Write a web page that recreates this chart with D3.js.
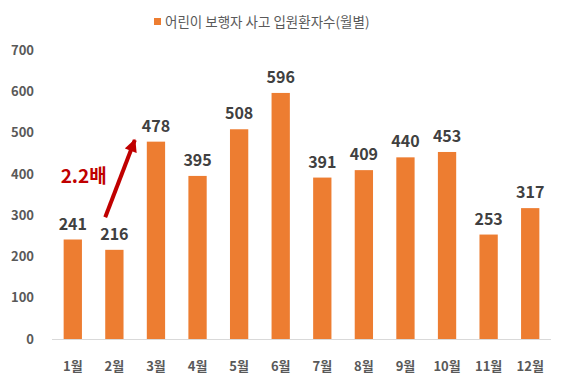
<!DOCTYPE html>
<html>
<head>
<meta charset="utf-8">
<script src="https://cdnjs.cloudflare.com/ajax/libs/d3/7.8.5/d3.min.js"></script>
<style>
body { margin: 0; background: #fff; }
text { font-family: "Noto Sans CJK KR", "Noto Sans", sans-serif; }
</style>
</head>
<body>
<script>
var w = 566, h = 386;

// data
var months = ["1월", "2월", "3월", "4월", "5월", "6월", "7월", "8월", "9월", "10월", "11월", "12월"];
var patients = [241, 216, 478, 395, 508, 596, 391, 409, 440, 453, 253, 317];
var yTicks = [0, 100, 200, 300, 400, 500, 600, 700];
var seriesName = "어린이 보행자 사고 입원환자수(월별)";
var noteText = "2.2배";

var orange = "#ED7D31";

var svg = d3.select("body").append("svg")
	.attr("width", w)
	.attr("height", h);

var x = d3.scaleBand()
	.domain(months)
	.range([52, 551])
	.paddingInner(0.56)
	.paddingOuter(0.28);

var y = d3.scaleLinear()
	.domain([0, 700])
	.range([339, 50]);

// y tick labels (no axis line)
var yAxis = d3.axisLeft(y).tickValues(yTicks).tickSize(0).tickPadding(0);
var ya = svg.append("g")
	.attr("transform", "translate(34,0)")
	.call(yAxis);
ya.select(".domain").remove();
ya.selectAll("text")
	.attr("fill", "#595959")
	.style("font-size", "13px")
	.style("font-weight", "bold");

// bars
svg.selectAll(".bar")
	.data(patients)
	.enter()
	.append("rect")
	.attr("class", "bar")
	.attr("x", function(d, i){ return x(months[i]); })
	.attr("width", x.bandwidth())
	.attr("y", function(d){ return y(d); })
	.attr("height", function(d){ return y(0) - y(d); })
	.attr("fill", orange);

// baseline
svg.append("line")
	.attr("x1", 52).attr("x2", 551)
	.attr("y1", y(0) + 0.5).attr("y2", y(0) + 0.5)
	.attr("stroke", "#d9d9d9")
	.attr("stroke-width", 1);

// x labels
var xAxis = d3.axisBottom(x).tickSize(0).tickPadding(0);
var xa = svg.append("g")
	.attr("transform", "translate(0," + y(0) + ")")
	.call(xAxis);
xa.select(".domain").remove();
xa.selectAll("text")
	.attr("dy", null)
	.attr("y", 32)
	.attr("fill", "#595959")
	.style("font-size", "13px")
	.style("font-weight", "bold");

// value labels
svg.selectAll(".val")
	.data(patients)
	.enter()
	.append("text")
	.attr("class", "val")
	.attr("text-anchor", "middle")
	.attr("x", function(d, i){ return x(months[i]) + x.bandwidth() / 2; })
	.attr("y", function(d){ return y(d) - 10; })
	.attr("fill", "#404040")
	.style("font-size", "16px")
	.style("font-weight", "bold")
	.text(function(d){ return d; });

// legend
var lg = svg.append("g");
lg.append("rect")
	.attr("x", 154).attr("y", 18)
	.attr("width", 7).attr("height", 7)
	.attr("fill", orange);
lg.append("text")
	.attr("x", 165).attr("y", 27)
	.attr("fill", "#595959")
	.style("font-size", "13.5px")
	.text(seriesName);

// arrow annotation
svg.append("defs").append("marker")
	.attr("id", "ah")
	.attr("viewBox", "0 0 10 10")
	.attr("refX", 9).attr("refY", 5)
	.attr("markerWidth", 3.5).attr("markerHeight", 3.2)
	.attr("orient", "auto")
	.append("path")
	.attr("d", "M0,0L10,5L0,10z")
	.attr("fill", "#C00000");

svg.append("line")
	.attr("x1", x("2월"))
	.attr("y1", y(295))
	.attr("x2", x("3월") - 12)
	.attr("y2", y(482))
	.attr("stroke", "#C00000")
	.attr("stroke-width", 4)
	.attr("marker-end", "url(#ah)");

svg.append("text")
	.attr("x", x("1월") - 3)
	.attr("y", y(378))
	.attr("fill", "#C00000")
	.style("font-size", "19px")
	.style("font-weight", "bold")
	.text(noteText);
</script>
</body>
</html>
